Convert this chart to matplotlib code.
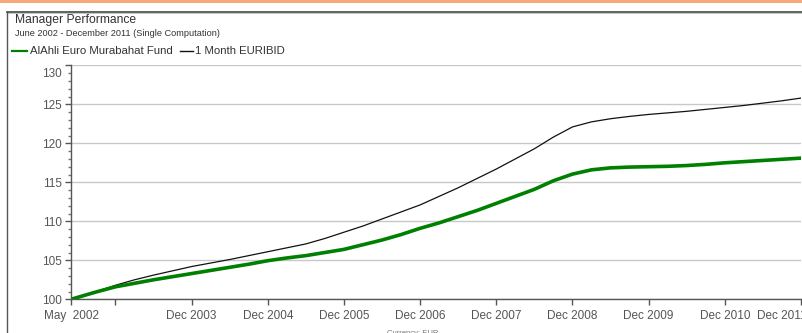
import matplotlib
matplotlib.use("Agg")
import matplotlib.pyplot as plt
import matplotlib.transforms as mtransforms
from matplotlib.lines import Line2D
from matplotlib.ticker import MultipleLocator

plt.rcParams['font.family'] = ['Liberation Sans', 'DejaVu Sans']

# Months elapsed since May 2002 (quarterly readings)
months = [0, 4, 7, 10, 13, 16, 19, 22, 25, 28, 31, 34, 37, 40, 43, 46, 49,
          52, 55, 58, 61, 64, 67, 70, 73, 76, 79, 82, 85, 88, 91, 94, 97,
          100, 103, 106, 109, 112, 115]

fund_values = [100.0, 100.95, 101.6, 102.05, 102.5, 102.9, 103.3, 103.7,
               104.1, 104.5, 104.95, 105.3, 105.6, 106.0, 106.4, 107.0,
               107.6, 108.3, 109.1, 109.8, 110.6, 111.4, 112.3, 113.2,
               114.1, 115.2, 116.05, 116.6, 116.85, 116.95, 117.0, 117.05,
               117.15, 117.3, 117.5, 117.65, 117.8, 117.95, 118.1]

euribid_values = [100.0, 101.0, 101.8, 102.5, 103.1, 103.65, 104.2, 104.65,
                  105.1, 105.6, 106.1, 106.6, 107.1, 107.8, 108.6, 109.4,
                  110.3, 111.2, 112.1, 113.2, 114.3, 115.5, 116.7, 118.0,
                  119.3, 120.8, 122.1, 122.75, 123.15, 123.45, 123.7, 123.9,
                  124.1, 124.35, 124.6, 124.85, 125.15, 125.45, 125.8]

tick_months = [0, 7, 19, 31, 43, 55, 67, 79, 91, 103, 115]
tick_labels = ["May  2002", "", "Dec 2003", "Dec 2004", "Dec 2005",
               "Dec 2006", "Dec 2007", "Dec 2008", "Dec 2009",
               "Dec 2010", "Dec 2011"]

fund_name = "AlAhli Euro Murabahat Fund"
bench_name = "1 Month EURIBID"

W, H = 802, 333
fig = plt.figure(figsize=(W / 100, H / 100), dpi=100)
fig.patch.set_facecolor("white")

def fx(px):
    return px / W

def fy(py):
    return 1 - py / H

# orange band along the top edge
fig.patches.append(plt.Rectangle((0, fy(2.5)), 1, 2.5 / H, transform=fig.transFigure,
                                 facecolor="#f8a67c", edgecolor="none"))
# panel frame
fig.add_artist(Line2D([fx(7), 1.0], [fy(12), fy(12)], transform=fig.transFigure,
                      color="#555555", lw=1.3))
fig.add_artist(Line2D([fx(7), 1.0], [fy(13.3), fy(13.3)], transform=fig.transFigure,
                      color="#bbbbbb", lw=0.6))
fig.add_artist(Line2D([fx(7), fx(7)], [fy(12), 0.0], transform=fig.transFigure,
                      color="#555555", lw=1.0))

# headings
fig.text(fx(15), fy(19.5), "Manager Performance", fontsize=8.7, color="#333333",
         va="center", ha="left")
fig.text(fx(15), fy(34), "June 2002 - December 2011 (Single Computation)",
         fontsize=6.6, color="#333333", va="center", ha="left")

# legend
fig.add_artist(Line2D([fx(12), fx(27)], [fy(51), fy(51)], transform=fig.transFigure,
                      color="#008000", lw=1.6))
fig.text(fx(29.5), fy(51), fund_name, fontsize=8.2, color="#333333",
         va="center", ha="left")
fig.add_artist(Line2D([fx(180), fx(193)], [fy(51), fy(51)], transform=fig.transFigure,
                      color="#111111", lw=1.0))
fig.text(fx(195), fy(51), bench_name, fontsize=8.2, color="#333333",
         va="center", ha="left")

# plot area
ax = fig.add_axes([fx(71), fy(299.3), fx(801) - fx(71), (299.3 - 65.3) / H])
ax.set_facecolor("white")
ax.set_xlim(0, 115)
ax.set_ylim(100, 130)

ax.yaxis.set_major_locator(MultipleLocator(5))
ax.yaxis.set_minor_locator(MultipleLocator(1))
ax.grid(axis="y", which="major", color="#c8c8c8", lw=1.0)
ax.set_axisbelow(True)

ax.plot(months, euribid_values, color="#111111", lw=0.9, zorder=3,
        solid_joinstyle="round")
ax.plot(months, fund_values, color="#008000", lw=2.6, zorder=4,
        solid_capstyle="round", solid_joinstyle="round")

ax.set_xticks(tick_months)
ax.set_xticklabels(tick_labels)

for side in ("top", "right"):
    ax.spines[side].set_visible(False)
for side in ("left", "bottom"):
    ax.spines[side].set_color("#555555")
    ax.spines[side].set_linewidth(1.0)

ax.tick_params(axis="x", which="major", length=4, width=1, color="#555555",
               labelsize=8.5, labelcolor="#555555", pad=4)
ax.tick_params(axis="y", which="major", length=4, width=1, color="#555555",
               labelsize=8.5, labelcolor="#555555", pad=2.5)
ax.tick_params(axis="y", which="minor", length=2.5, width=1, color="#777777")

fig.canvas.draw()
# keep the top value label inside the panel
offset = mtransforms.ScaledTranslation(0, -7 / 100, fig.dpi_scale_trans)
for lbl in ax.get_yticklabels():
    if lbl.get_text() == "130":
        lbl.set_transform(lbl.get_transform() + offset)
# pull the last date label back toward the panel
xshift = mtransforms.ScaledTranslation(-19 / 100, 0, fig.dpi_scale_trans)
for lbl in ax.get_xticklabels():
    if lbl.get_text() == "Dec 2011":
        lbl.set_transform(lbl.get_transform() + xshift)

fig.text(fx(413), fy(333.5), "Currency: EUR", fontsize=5.5, color="#777777",
         va="center", ha="center")

fig.savefig("out.png", dpi=100, facecolor="white")
